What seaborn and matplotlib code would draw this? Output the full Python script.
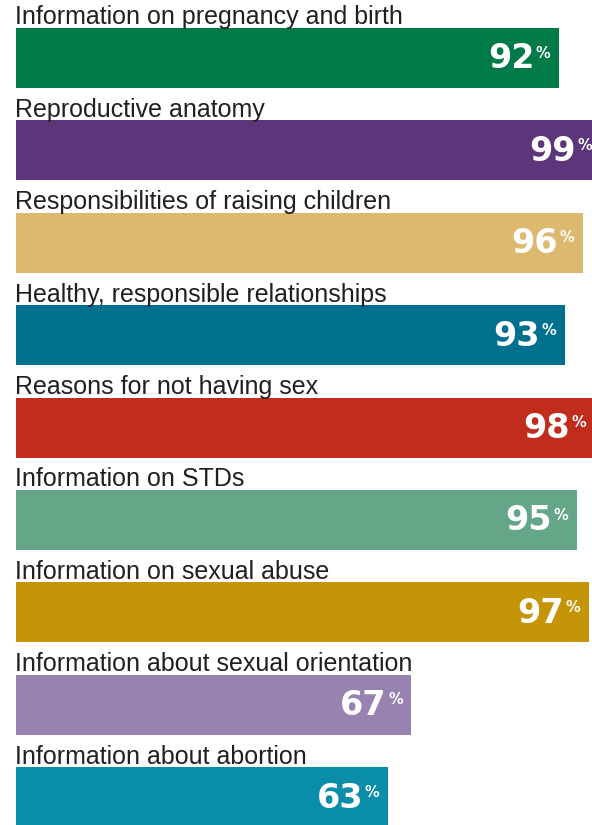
import matplotlib
matplotlib.use("Agg")
import matplotlib.pyplot as plt
import seaborn as sns
import pandas as pd

# -------------------------------------------------
# Data
# -------------------------------------------------

topics = [
    "Information on pregnancy and birth",
    "Reproductive anatomy",
    "Responsibilities of raising children",
    "Healthy, responsible relationships",
    "Reasons for not having sex",
    "Information on STDs",
    "Information on sexual abuse",
    "Information about sexual orientation",
    "Information about abortion",
]
percents = [92, 99, 96, 93, 98, 95, 97, 67, 63]
bar_colors = [
    "#007A48", "#5C357A", "#DCB96E", "#00708F", "#C02D1C",
    "#65A688", "#C59508", "#9883B0", "#0A8DA9",
]

df = pd.DataFrame({"Topic": topics, "Percent": percents})

# -------------------------------------------------
# Plot
# -------------------------------------------------

sns.set_style("white")
plt.rcParams["font.family"] = ["Liberation Sans", "DejaVu Sans"]

fig = plt.figure(figsize=(5.92, 8.25), dpi=100)
ax = fig.add_axes([15.5 / 592, 0.0, 1 - 15.5 / 592, 1.0])

sns.barplot(
    data=df,
    y="Topic",
    x="Percent",
    hue="Topic",
    palette=bar_colors,
    orient="h",
    width=0.65,
    legend=False,
    saturation=1,
    linewidth=0,
    ax=ax,
)

ax.set_xlim(0, 97.58)
ax.set_ylim(8.30, -0.628)
ax.axis("off")

for i, (label, v) in enumerate(zip(topics, percents)):
    # topic label above the bar
    ax.text(-0.1, i - 0.365, label, ha="left", va="baseline",
            fontsize=18, color="#231f20")
    # value inside the bar
    ax.text(v - 4.2, i + 0.01, str(v), ha="right", va="center",
            fontsize=24, fontweight="heavy", color="white",
            family="DejaVu Sans")
    ax.text(v - 3.9, i - 0.135, "%", ha="left", va="top",
            fontsize=10.5, fontweight="bold", color="white",
            family="DejaVu Sans")

fig.savefig("out.png", dpi=100)
plt.close(fig)
